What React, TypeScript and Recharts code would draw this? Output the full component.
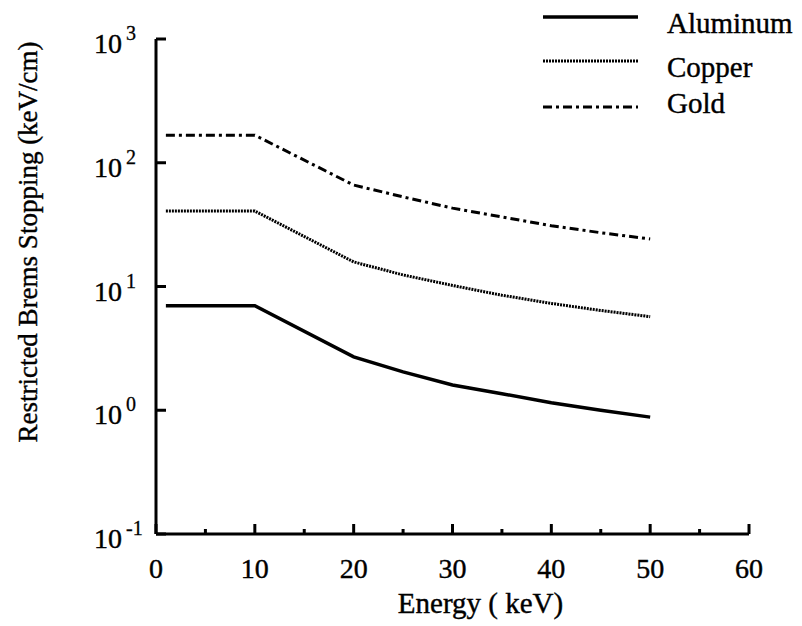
import React from 'react';
import { LineChart, Line, XAxis, YAxis, Label } from 'recharts';

const energy = [1, 10, 20, 25, 30, 35, 40, 45, 50];
const aluminum = [7.0, 7.0, 2.7, 2.04, 1.6, 1.36, 1.15, 1.0, 0.88];
const copper = [40.7, 40.7, 15.8, 12.4, 10.2, 8.5, 7.3, 6.4, 5.7];
const gold = [167, 167, 66, 53, 43, 36.5, 31, 27.2, 24.2];

const xTicks = [0, 5, 10, 15, 20, 25, 30, 35, 40, 45, 50, 55, 60];
const yTicks = [0.1, 1, 10, 100, 1000];
const yExponents = ['-1', '0', '1', '2', '3'];

const seriesNames = ['Aluminum', 'Copper', 'Gold'];
const seriesKeys = ['aluminum', 'copper', 'gold'];
const seriesDash = ['', '2 1', '9 4 3 4'];
const seriesWidth = [3.5, 3, 3];

const data = energy.map((e, i) => ({
  energy: e,
  aluminum: aluminum[i],
  copper: copper[i],
  gold: gold[i],
}));

const FONT = 'Liberation Serif';

const YTick = (props: any) => {
  const { x, y, index } = props;
  return (
    <g>
      <line x1={x} y1={y} x2={x + 10} y2={y} stroke="#000" strokeWidth={3} />
      <text x={x - 34} y={y + 14} textAnchor="end" fontSize={28} fontFamily={FONT} fill="#000" stroke="#000" strokeWidth={0.4}>
        10
      </text>
      <text x={x - 30} y={y + 1} textAnchor="start" fontSize={20} fontFamily={FONT} fill="#000" stroke="#000" strokeWidth={0.3}>
        {yExponents[index]}
      </text>
    </g>
  );
};

const XTick = (props: any) => {
  const { x, y, payload } = props;
  const v = payload.value;
  const major = v % 10 === 0;
  return (
    <g>
      <line x1={x} y1={y} x2={x} y2={y - (major ? 10 : 5)} stroke="#000" strokeWidth={3} />
      {major && (
        <text x={x} y={y + 44} textAnchor="middle" fontSize={28} fontFamily={FONT} fill="#000" stroke="#000" strokeWidth={0.4}>
          {v}
        </text>
      )}
    </g>
  );
};

export default function App() {
  return (
    <div style={{ position: 'relative', width: 802, height: 626, background: '#fff' }}>
      <style>{`body{margin:0;background:#fff}`}</style>
      <LineChart
        width={802}
        height={626}
        data={data}
        margin={{ top: 39, right: 53, bottom: 0, left: 0 }}
      >
        <XAxis
          dataKey="energy"
          type="number"
          domain={[0, 60]}
          ticks={xTicks}
          interval={0}
          height={92}
          tickSize={0}
          tickMargin={0}
          tickLine={false}
          axisLine={{ stroke: '#000', strokeWidth: 3 }}
          tick={<XTick />}
        >
          <Label
            content={(p: any) => {
              const vb = p.viewBox;
              return (
                <text
                  x={vb.x + vb.width / 2 + 28}
                  y={vb.y + 79}
                  textAnchor="middle"
                  fontSize={29}
                  fontFamily={FONT}
                  fill="#000"
                  stroke="#000"
                  strokeWidth={0.4}
                >
                  Energy ( keV)
                </text>
              );
            }}
          />
        </XAxis>
        <YAxis
          type="number"
          scale="log"
          domain={[0.1, 1000]}
          ticks={yTicks}
          interval={0}
          allowDataOverflow
          width={156}
          tickSize={0}
          tickMargin={0}
          tickLine={false}
          axisLine={{ stroke: '#000', strokeWidth: 3 }}
          tick={<YTick />}
        >
          <Label
            content={(p: any) => {
              const vb = p.viewBox;
              const cx = vb.x + 37;
              const cy = vb.y + 203;
              return (
                <text
                  x={cx}
                  y={cy}
                  transform={`rotate(-90, ${cx}, ${cy})`}
                  textAnchor="middle"
                  fontSize={27}
                  fontFamily={FONT}
                  fill="#000"
                  stroke="#000"
                  strokeWidth={0.4}
                >
                  Restricted Brems Stopping (keV/cm)
                </text>
              );
            }}
          />
        </YAxis>
        {seriesKeys.map((k, i) => (
          <Line
            key={k}
            type="linear"
            dataKey={k}
            name={seriesNames[i]}
            stroke="#000"
            strokeWidth={seriesWidth[i]}
            strokeDasharray={seriesDash[i] || undefined}
            dot={false}
            activeDot={false}
            isAnimationActive={false}
          />
        ))}
      </LineChart>
      <svg
        width={802}
        height={130}
        style={{ position: 'absolute', left: 0, top: 0, pointerEvents: 'none' }}
      >
        {seriesNames.map((n, i) => {
          const ly = [17, 61, 107][i];
          const ty = [33, 77, 113][i];
          return (
            <g key={n}>
              <line
                x1={543}
                x2={638}
                y1={ly}
                y2={ly}
                stroke="#000"
                strokeWidth={seriesWidth[i]}
                strokeDasharray={seriesDash[i] || undefined}
              />
              <text x={667} y={ty} fontSize={29} fontFamily={FONT} fill="#000" stroke="#000" strokeWidth={0.4}>
                {n}
              </text>
            </g>
          );
        })}
      </svg>
    </div>
  );
}
